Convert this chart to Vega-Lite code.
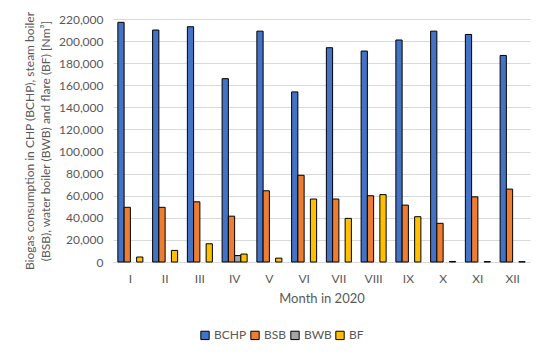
{
  "$schema": "https://vega.github.io/schema/vega-lite/v6.json",
  "autosize": {"type": "none"},
  "width": 417,
  "height": 243,
  "padding": {"left": 113, "top": 19, "right": 20, "bottom": 101},
  "background": "white",
  "data": {"values": [
    {"m": "I", "s": "BCHP", "v": 217000}, {"m": "I", "s": "BSB", "v": 49500}, {"m": "I", "s": "BWB", "v": 0}, {"m": "I", "s": "BF", "v": 4500},
    {"m": "II", "s": "BCHP", "v": 210000}, {"m": "II", "s": "BSB", "v": 49500}, {"m": "II", "s": "BWB", "v": 0}, {"m": "II", "s": "BF", "v": 10500},
    {"m": "III", "s": "BCHP", "v": 213000}, {"m": "III", "s": "BSB", "v": 54500}, {"m": "III", "s": "BWB", "v": 0}, {"m": "III", "s": "BF", "v": 16500},
    {"m": "IV", "s": "BCHP", "v": 166000}, {"m": "IV", "s": "BSB", "v": 41500}, {"m": "IV", "s": "BWB", "v": 5800}, {"m": "IV", "s": "BF", "v": 7200},
    {"m": "V", "s": "BCHP", "v": 209000}, {"m": "V", "s": "BSB", "v": 64500}, {"m": "V", "s": "BWB", "v": 0}, {"m": "V", "s": "BF", "v": 3500},
    {"m": "VI", "s": "BCHP", "v": 154000}, {"m": "VI", "s": "BSB", "v": 78500}, {"m": "VI", "s": "BWB", "v": 0}, {"m": "VI", "s": "BF", "v": 57000},
    {"m": "VII", "s": "BCHP", "v": 194000}, {"m": "VII", "s": "BSB", "v": 57000}, {"m": "VII", "s": "BWB", "v": 0}, {"m": "VII", "s": "BF", "v": 39500},
    {"m": "VIII", "s": "BCHP", "v": 191000}, {"m": "VIII", "s": "BSB", "v": 60000}, {"m": "VIII", "s": "BWB", "v": 0}, {"m": "VIII", "s": "BF", "v": 61000},
    {"m": "IX", "s": "BCHP", "v": 201000}, {"m": "IX", "s": "BSB", "v": 51500}, {"m": "IX", "s": "BWB", "v": 0}, {"m": "IX", "s": "BF", "v": 41000},
    {"m": "X", "s": "BCHP", "v": 209000}, {"m": "X", "s": "BSB", "v": 35000}, {"m": "X", "s": "BWB", "v": 0}, {"m": "X", "s": "BF", "v": 500},
    {"m": "XI", "s": "BCHP", "v": 206000}, {"m": "XI", "s": "BSB", "v": 59000}, {"m": "XI", "s": "BWB", "v": 0}, {"m": "XI", "s": "BF", "v": 400},
    {"m": "XII", "s": "BCHP", "v": 187000}, {"m": "XII", "s": "BSB", "v": 66000}, {"m": "XII", "s": "BWB", "v": 0}, {"m": "XII", "s": "BF", "v": 300}
  ]},
  "transform": [{"filter": "datum.v > 0"}],
  "mark": {"type": "bar", "stroke": "black", "strokeWidth": 1},
  "encoding": {
    "x": {
      "field": "m", "type": "nominal",
      "sort": ["I", "II", "III", "IV", "V", "VI", "VII", "VIII", "IX", "X", "XI", "XII"],
      "scale": {"domain": ["I", "II", "III", "IV", "V", "VI", "VII", "VIII", "IX", "X", "XI", "XII"], "paddingInner": 0.28, "paddingOuter": 0.14},
      "axis": {
        "title": "Month in 2020", "labelAngle": 0, "ticks": false,
        "domainColor": "#D9D9D9", "labelColor": "#595959", "labelFontSize": 12,
        "labelPadding": 11, "titleColor": "#595959", "titleFontSize": 13,
        "titleFontWeight": "normal", "titlePadding": 8, "labelFont": "Lato", "titleFont": "Lato"
      }
    },
    "xOffset": {"field": "s", "type": "nominal", "scale": {"domain": ["BCHP", "BSB", "BWB", "BF"]}},
    "y": {
      "field": "v", "type": "quantitative",
      "scale": {"domain": [0, 220000]},
      "axis": {
        "title": ["Biogas consumption in CHP (BCHP), steam boiler", "(BSB), water boiler (BWB) and flare  (BF) [Nm³]"],
        "tickCount": 11, "format": ",d", "domain": false, "ticks": false,
        "gridColor": "#D9D9D9", "labelColor": "#595959", "labelFontSize": 12, "labelPadding": 10,
        "titleColor": "#595959", "titleFontSize": 12, "titleFontWeight": "normal", "titlePadding": 6,
        "titleLineHeight": 16,
        "labelFont": "Lato", "titleFont": "Lato"
      }
    },
    "color": {
      "field": "s", "type": "nominal",
      "scale": {"domain": ["BCHP", "BSB", "BWB", "BF"], "range": ["#4472C4", "#ED7D31", "#A5A5A5", "#FFC000"]},
      "legend": {
        "title": null, "orient": "none", "direction": "horizontal", "legendX": 86, "legendY": 310,
        "symbolType": "square", "symbolSize": 70, "symbolStrokeColor": "black", "symbolStrokeWidth": 1,
        "labelColor": "#595959", "labelFontSize": 12, "labelFont": "Lato", "labelOffset": 3,
        "columnPadding": 1
      }
    }
  },
  "config": {"view": {"stroke": null}}
}
